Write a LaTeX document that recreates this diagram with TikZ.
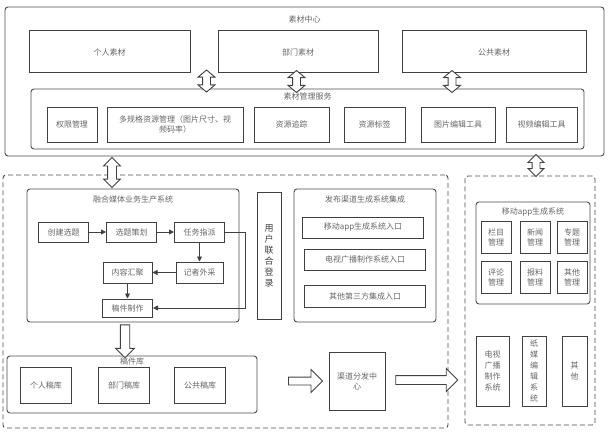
\documentclass[tikz,border=0pt]{standalone}
\usepackage{fontspec}
\setmainfont{Noto Sans CJK SC}
\usepackage{tikz}
\usetikzlibrary{shapes.arrows, arrows.meta, positioning, calc}

\begin{document}
\begin{tikzpicture}[
		x=1pt, y=-1pt,
		every node/.style={font=\fontsize{8}{10}\selectfont, text=black!60},
		box/.style={draw=black!75, line width=1pt, align=center, inner sep=1pt},
		panel/.style={draw=black!70, line width=0.9pt, rounded corners=3pt},
		dashpanel/.style={draw=black!70, line width=0.9pt, dash pattern=on 5pt off 3pt, rounded corners=3pt},
		title/.style={inner sep=0pt},
		flowbox/.style={box, minimum width=50pt, minimum height=20pt},
		mgrbox/.style={box, minimum width=30pt, minimum height=32pt},
		colbox/.style={box, minimum height=70pt, font=\fontsize{8}{11}\selectfont},
		dblarrow/.style={double arrow, draw=black!75, fill=white, line width=0.9pt, inner xsep=0pt, rotate=90},
		fatarrow/.style={single arrow, draw=black!75, fill=white, line width=0.9pt, inner xsep=0pt},
		link/.style={line width=0.9pt, draw=black!75, -{Triangle[length=5pt, width=5pt]}}
		]
		\useasboundingbox (0,0) rectangle (608,436);
		
		% Material center
		\node[panel, minimum width=599pt, minimum height=149pt] (center) at (304.5,81.5) {};
		\node[title, below=9pt of center.north] (centertitle) {素材中心};
		\node[box, minimum width=161pt, minimum height=42pt] (personal) at (109.5,52) {个人素材};
		\node[box, minimum width=160pt, minimum height=42pt, right=27pt of personal] (dept) {部门素材};
		\node[box, minimum width=184pt, minimum height=42pt, right=23pt of dept] (public) {公共素材};
		
		\node[panel, minimum width=553pt, minimum height=60pt] (service) at (307.5,119) {};
		\node[title, below=4pt of service.north] (servicetitle) {素材管理服务};
		\node[box, minimum width=50pt, minimum height=35pt] (perm) at (72,124.5) {权限管理};
		\node[box, minimum width=136pt, minimum height=35pt, right=9pt of perm] (spec) {多规格资源管理（图片尺寸、视\\频码率）};
		\node[box, minimum width=75pt, minimum height=35pt, right=10pt of spec] (trace) {资源追踪};
		\node[box, minimum width=61pt, minimum height=35pt, right=14pt of trace] (tag) {资源标签};
		\node[box, minimum width=74pt, minimum height=35pt, right=15pt of tag] (imgtool) {图片编辑工具};
		\node[box, minimum width=71pt, minimum height=35pt, right=10pt of imgtool] (vidtool) {视频编辑工具};
		
		% Production zone
		\node[dashpanel, minimum width=445pt, minimum height=253pt] (leftzone) at (225.5,301.5) {};
		\node[panel, minimum width=212pt, minimum height=133pt] (prod) at (133,255.5) {};
		\node[title, below=7pt of prod.north] (prodtitle) {融合媒体业务生产系统};
		\node[flowbox] (create) at (63.5,232) {创建选题};
		\node[flowbox, right=17pt of create] (plan) {选题策划};
		\node[flowbox, right=17pt of plan] (assign) {任务指派};
		\node[flowbox, minimum width=47pt, minimum height=21pt, below=19pt of assign] (report) {记者外采};
		\node[flowbox, minimum width=49pt, minimum height=21pt, left=23pt of report] (gather) {内容汇聚};
		\node[flowbox, minimum height=18pt, below=15pt of gather] (draft) {稿件制作};
		
		\node[box, minimum width=24pt, minimum height=127pt, font=\fontsize{9}{11}\selectfont, text=black!75] (login) at (269,255.5) {用\\户\\联\\合\\登\\录};
		
		\node[panel, minimum width=142pt, minimum height=133pt] (publish) at (365,255.5) {};
		\node[title, below=7pt of publish.north] (pubtitle) {发布渠道生成系统集成};
		\node[box, minimum width=121pt, minimum height=21pt] (appentry) at (363,227.5) {移动app生成系统入口};
		\node[box, minimum width=121pt, minimum height=21pt, below=10pt of appentry, xshift=2pt] (tventry) {电视广播制作系统入口};
		\node[box, minimum width=121pt, minimum height=22pt, below=14pt of tventry] (otherentry) {其他第三方集成入口};
		
		\node[panel, minimum width=250pt, minimum height=57pt] (library) at (132,384.5) {};
		\node[title, below=2pt of library.north] (libtitle) {稿件库};
		\node[box, minimum width=51pt, minimum height=36pt] (perlib) at (46,385) {个人稿库};
		\node[box, minimum width=51pt, minimum height=36pt, right=26pt of perlib] (deptlib) {部门稿库};
		\node[box, minimum width=51pt, minimum height=36pt, right=24pt of deptlib] (publib) {公共稿库};
		
		\node[box, minimum width=56pt, minimum height=58pt] (dispatch) at (357,381) {渠道分发中\\心};
		
		% App zone
		\node[dashpanel, minimum width=130pt, minimum height=249pt] (rightzone) at (530,300.5) {};
		\node[panel, minimum width=114pt, minimum height=102pt] (app) at (533,253) {};
		\node[title, below=6pt of app.north] (apptitle) {移动app生成系统};
		\node[mgrbox] (column) at (496,237) {栏目\\管理};
		\node[mgrbox, right=8pt of column] (news) {新闻\\管理};
		\node[mgrbox, right=6pt of news] (topic) {专题\\管理};
		\node[mgrbox, below=7pt of column] (comment) {评论\\管理};
		\node[mgrbox, below=7pt of news] (tipoff) {报料\\管理};
		\node[mgrbox, below=7pt of topic] (misc) {其他\\管理};
		\node[colbox, minimum width=33pt] (tvsys) at (492.5,371) {电视\\广播\\制作\\系统};
		\node[colbox, minimum width=24pt] (papersys) at (534,371) {纸\\媒\\编\\辑\\系\\统};
		\node[colbox, minimum width=25pt] (othersys) at (574.5,371) {其\\他};
		
		% Flow arrows
		\draw[link] (create) -- (plan);
		\draw[link] (plan) -- (assign);
		\draw[link] (assign) -- (report);
		\draw[link] (report) -- (gather);
		\draw[link] (gather) -- (draft);
		\draw[link] (assign.east) -- ++(20,0) |- (draft.east);
		
		% Hollow arrows
		\node[dblarrow, minimum height=22pt, minimum width=16pt, inner ysep=3.5pt, double arrow head extend=4.5pt, double arrow tip angle=100] (a1) at ($(personal.south)!0.5!(service.north)+(-2,0)$) {};
		\node[dblarrow, minimum height=22pt, minimum width=16pt, inner ysep=3.5pt, double arrow head extend=4.5pt, double arrow tip angle=100] (a2) at ($(dept.south)+(-1.5,8)$) {};
		\node[dblarrow, minimum height=22pt, minimum width=16pt, inner ysep=3.5pt, double arrow head extend=4.5pt, double arrow tip angle=100] (a3) at ($(public.south)+(-42,8)$) {};
		\node[dblarrow, minimum height=30pt, minimum width=16pt, inner ysep=4pt, double arrow head extend=4pt] (a4) at ($(prod.north)+(-21,-16)$) {};
		\node[dblarrow, minimum height=22pt, minimum width=15pt, inner ysep=3.5pt, double arrow head extend=4pt] (a5) at ($(rightzone.north)+(6,-10)$) {};
		\node[fatarrow, rotate=-90, minimum height=33pt, minimum width=18pt, inner ysep=4.25pt, single arrow head extend=4.75pt] (a6) at ($(prod.south)!0.5!(library.north)+(-7.5,0)$) {};
		\node[fatarrow, minimum height=34pt, minimum width=22pt, inner ysep=3.5pt, single arrow head extend=7.5pt] (a7) at ($(dispatch.west)+(-25,0)$) {};
		\node[fatarrow, minimum height=62pt, minimum width=22pt, inner ysep=4pt, single arrow head extend=7pt] (a8) at ($(dispatch.east)+(39,-1)$) {};
	\end{tikzpicture}
\end{document}
